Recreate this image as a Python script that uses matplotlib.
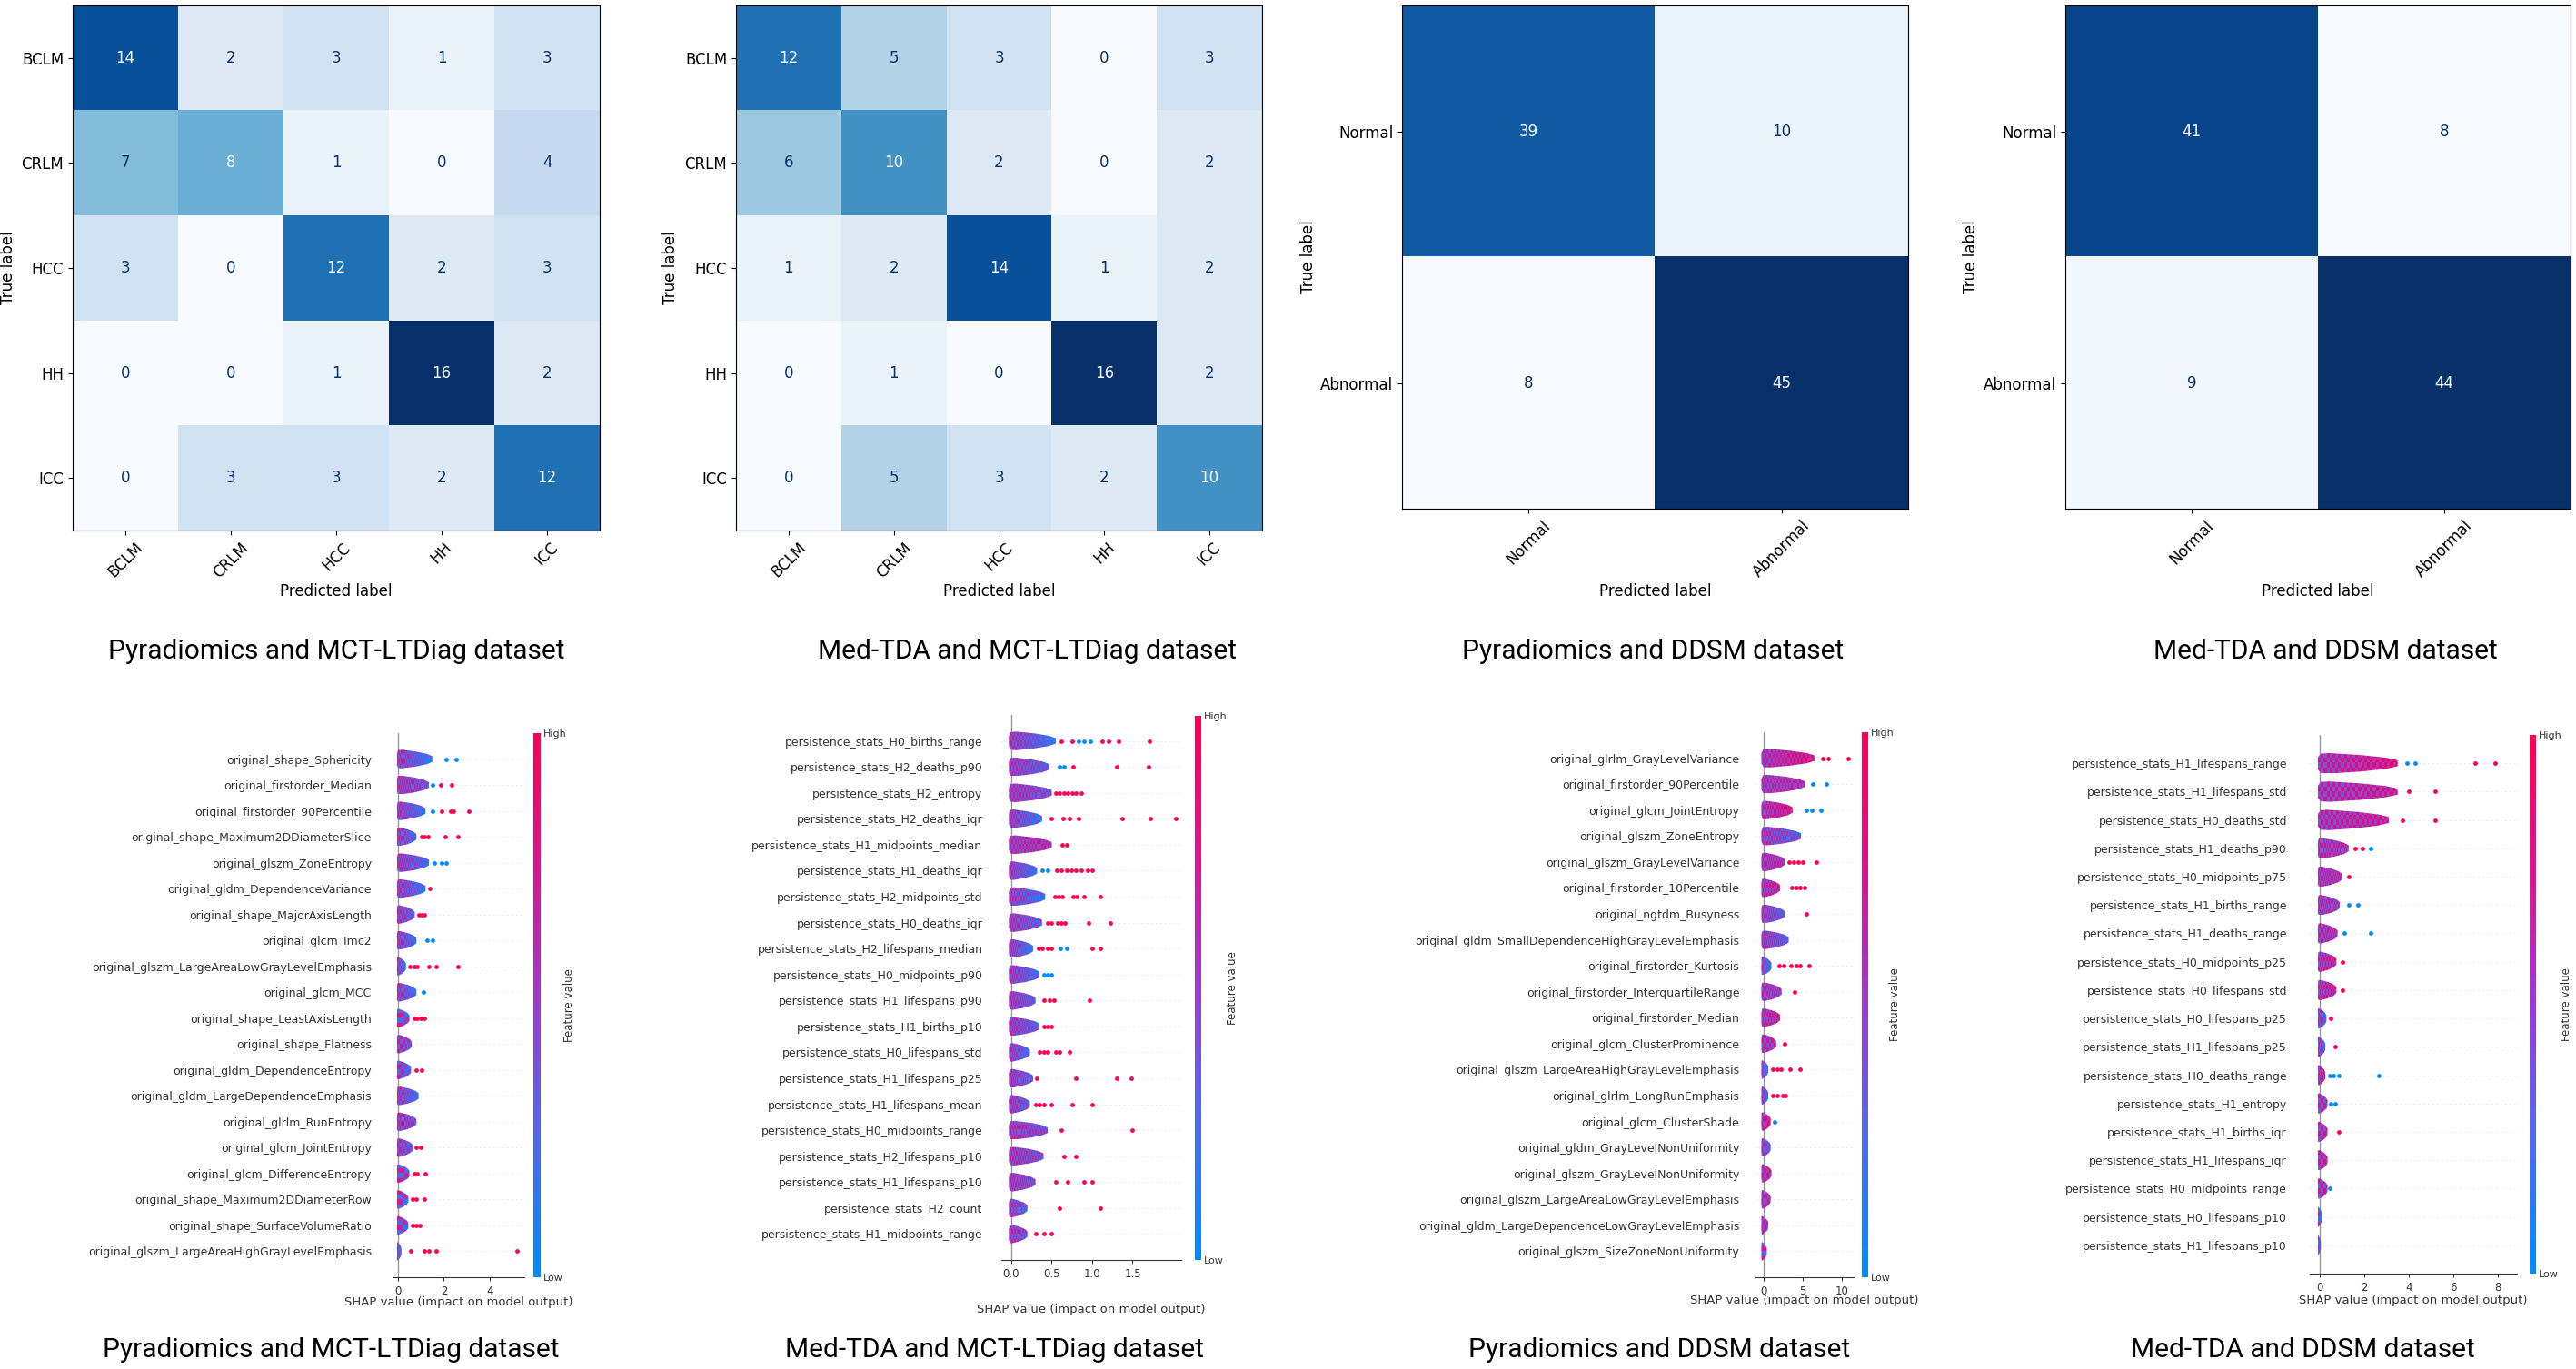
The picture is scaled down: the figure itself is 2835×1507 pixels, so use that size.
import numpy as np
import matplotlib
matplotlib.use("Agg")
import matplotlib.pyplot as plt
from matplotlib.colors import LinearSegmentedColormap
from matplotlib.patches import Polygon
from matplotlib.cm import ScalarMappable

# ---------------- data ----------------
liver_classes = ["BCLM", "CRLM", "HCC", "HH", "ICC"]
ddsm_classes = ["Normal", "Abnormal"]

cm_pyr_liver = [[14, 2, 3, 1, 3], [7, 8, 1, 0, 4], [3, 0, 12, 2, 3], [0, 0, 1, 16, 2], [0, 3, 3, 2, 12]]
cm_tda_liver = [[12, 5, 3, 0, 3], [6, 10, 2, 0, 2], [1, 2, 14, 1, 2], [0, 1, 0, 16, 2], [0, 5, 3, 2, 10]]
cm_pyr_ddsm = [[39, 10], [8, 45]]
cm_tda_ddsm = [[41, 8], [9, 44]]

titles = ["Pyradiomics and MCT-LTDiag dataset", "Med-TDA and MCT-LTDiag dataset",
          "Pyradiomics and DDSM dataset", "Med-TDA and DDSM dataset"]

# SHAP summaries: feature names (top to bottom), right end of the dense cluster,
# colour of the cluster's right end (0 low .. 1 high), isolated high / low dots
a_features = ["original_shape_Sphericity", "original_firstorder_Median", "original_firstorder_90Percentile",
              "original_shape_Maximum2DDiameterSlice", "original_glszm_ZoneEntropy",
              "original_gldm_DependenceVariance", "original_shape_MajorAxisLength", "original_glcm_Imc2",
              "original_glszm_LargeAreaLowGrayLevelEmphasis", "original_glcm_MCC",
              "original_shape_LeastAxisLength", "original_shape_Flatness", "original_gldm_DependenceEntropy",
              "original_gldm_LargeDependenceEmphasis", "original_glrlm_RunEntropy", "original_glcm_JointEntropy",
              "original_glcm_DifferenceEntropy", "original_shape_Maximum2DDiameterRow",
              "original_shape_SurfaceVolumeRatio", "original_glszm_LargeAreaHighGrayLevelEmphasis"]
a_blob = [1.5, 1.35, 1.2, 0.8, 1.35, 1.2, 0.73, 0.8, 0.35, 0.8, 0.5, 0.6, 0.57, 0.9, 0.8, 0.65, 0.5, 0.45, 0.45, 0.15]
a_tone = [0.1, 0.4, 0.15, 0.2, 0.2, 0.15, 0.3, 0.15, 0.05, 0.15, 0.3, 0.4, 0.2, 0.15, 0.4, 0.3, 0.4, 0.3, 0.3, 0.0]
a_red = [[], [1.85, 2.35], [1.9, 2.3, 2.4, 3.1], [1.05, 1.15, 1.3, 2.05, 2.6], [], [1.4], [0.9, 1.05, 1.15], [],
         [0.5, 0.7, 0.85, 1.35, 1.65, 2.6], [], [0.7, 0.85, 1.0, 1.15], [], [0.8, 1.05], [], [], [0.8, 1.0],
         [0.7, 0.85, 1.2], [0.65, 0.8, 1.15], [0.65, 0.8, 0.95], [0.55, 1.15, 1.35, 1.65, 5.2]]
a_blue = [[2.1, 2.55], [1.5], [1.5], [], [1.6, 1.9, 2.1], [], [], [1.25, 1.5], [], [1.1],
          [], [], [], [], [], [], [], [], [], []]
a_ticks = [0, 2, 4]

b_features = ["persistence_stats_H0_births_range", "persistence_stats_H2_deaths_p90", "persistence_stats_H2_entropy",
              "persistence_stats_H2_deaths_iqr", "persistence_stats_H1_midpoints_median",
              "persistence_stats_H1_deaths_iqr", "persistence_stats_H2_midpoints_std",
              "persistence_stats_H0_deaths_iqr", "persistence_stats_H2_lifespans_median",
              "persistence_stats_H0_midpoints_p90", "persistence_stats_H1_lifespans_p90",
              "persistence_stats_H1_births_p10", "persistence_stats_H0_lifespans_std",
              "persistence_stats_H1_lifespans_p25", "persistence_stats_H1_lifespans_mean",
              "persistence_stats_H0_midpoints_range", "persistence_stats_H2_lifespans_p10",
              "persistence_stats_H1_lifespans_p10", "persistence_stats_H2_count",
              "persistence_stats_H1_midpoints_range"]
b_blob = [0.55, 0.47, 0.5, 0.38, 0.5, 0.32, 0.42, 0.38, 0.27, 0.35, 0.3, 0.35, 0.23, 0.27, 0.23, 0.45, 0.4, 0.3, 0.2, 0.2]
b_tone = [0.15, 0.3, 0.4, 0.15, 0.6, 0.15, 0.15, 0.3, 0.15, 0.2, 0.3, 0.3, 0.2, 0.3, 0.3, 0.4, 0.4, 0.4, 0.3, 0.4]
b_red = [[0.62, 0.75, 1.12, 1.2, 1.33, 1.71], [0.76, 1.3, 1.7], [0.55, 0.6, 0.65, 0.7, 0.75, 0.8, 0.87],
         [0.5, 0.64, 0.72, 0.83, 1.37, 1.72, 2.03], [0.63, 0.68], [0.56, 0.62, 0.68, 0.74, 0.8, 0.87, 0.94, 1.0],
         [0.54, 0.58, 0.63, 0.76, 0.81, 0.9, 1.1], [0.45, 0.5, 0.57, 0.62, 0.66, 0.95, 1.22],
         [0.34, 0.38, 0.45, 0.5, 1.0, 1.1], [], [0.4, 0.47, 0.53, 0.97], [0.4, 0.45, 0.5],
         [0.35, 0.4, 0.45, 0.55, 0.6, 0.72], [0.32, 0.8, 1.3, 1.48], [0.3, 0.35, 0.4, 0.5, 0.75, 1.0],
         [0.62, 1.5], [0.65, 0.8], [0.55, 0.7, 0.9, 1.0], [0.6, 1.1], [0.3, 0.4, 0.5]]
b_blue = [[0.83, 0.9, 0.98], [0.6, 0.65], [], [], [], [0.38, 0.45], [], [], [0.61, 0.69], [0.4, 0.45, 0.5],
          [], [], [], [], [], [], [], [], [], []]
b_ticks = [0.0, 0.5, 1.0, 1.5]

c_features = ["original_glrlm_GrayLevelVariance", "original_firstorder_90Percentile", "original_glcm_JointEntropy",
              "original_glszm_ZoneEntropy", "original_glszm_GrayLevelVariance", "original_firstorder_10Percentile",
              "original_ngtdm_Busyness", "original_gldm_SmallDependenceHighGrayLevelEmphasis",
              "original_firstorder_Kurtosis", "original_firstorder_InterquartileRange",
              "original_firstorder_Median", "original_glcm_ClusterProminence",
              "original_glszm_LargeAreaHighGrayLevelEmphasis", "original_glrlm_LongRunEmphasis",
              "original_glcm_ClusterShade", "original_gldm_GrayLevelNonUniformity",
              "original_glszm_GrayLevelNonUniformity", "original_glszm_LargeAreaLowGrayLevelEmphasis",
              "original_gldm_LargeDependenceLowGrayLevelEmphasis", "original_glszm_SizeZoneNonUniformity"]
c_blob = [6.5, 5.3, 3.7, 4.8, 2.7, 2.1, 2.7, 3.2, 1.0, 2.3, 2.1, 1.6, 0.6, 0.6, 0.9, 0.9, 1.0, 0.9, 0.6, 0.4]
c_tone = [0.8, 0.6, 0.8, 0.3, 0.6, 0.7, 0.3, 0.3, 0.1, 0.5, 0.7, 0.6, 0.1, 0.2, 0.8, 0.3, 0.7, 0.6, 0.6, 0.5]
c_red = [[7.5, 8.3, 10.8], [], [], [], [3.2, 3.8, 4.4, 5.0, 6.8], [3.6, 4.2, 4.7, 5.2], [5.5], [],
         [2.0, 2.6, 3.5, 4.2, 4.6, 5.8], [4.0], [], [2.7], [1.2, 1.7, 2.2, 3.4, 4.7], [1.2, 1.8, 2.4, 2.8],
         [], [], [], [], [], []]
c_blue = [[], [6.3, 8.0], [5.5, 6.2, 7.3], [], [], [], [], [], [], [], [], [], [], [], [1.4], [], [], [], [], []]
c_ticks = [0, 5, 10]

d_features = ["persistence_stats_H1_lifespans_range", "persistence_stats_H1_lifespans_std",
              "persistence_stats_H0_deaths_std", "persistence_stats_H1_deaths_p90",
              "persistence_stats_H0_midpoints_p75", "persistence_stats_H1_births_range",
              "persistence_stats_H1_deaths_range", "persistence_stats_H0_midpoints_p25",
              "persistence_stats_H0_lifespans_std", "persistence_stats_H0_lifespans_p25",
              "persistence_stats_H1_lifespans_p25", "persistence_stats_H0_deaths_range",
              "persistence_stats_H1_entropy", "persistence_stats_H1_births_iqr",
              "persistence_stats_H1_lifespans_iqr", "persistence_stats_H0_midpoints_range",
              "persistence_stats_H0_lifespans_p10", "persistence_stats_H1_lifespans_p10"]
d_blob = [3.5, 3.5, 3.1, 1.3, 1.0, 0.9, 0.8, 0.75, 0.75, 0.3, 0.25, 0.25, 0.35, 0.35, 0.35, 0.35, 0.1, 0.05]
d_tone = [0.8, 0.7, 0.7, 0.6, 0.6, 0.5, 0.6, 0.7, 0.7, 0.2, 0.2, 0.7, 0.5, 0.6, 0.7, 0.6, 0.0, 0.0]
d_red = [[7.0, 7.9], [4.0, 5.2], [3.7, 5.2], [1.6, 1.9], [1.3], [], [], [1.0], [1.0], [0.5], [0.7], [], [],
         [0.85], [], [], [], []]
d_blue = [[3.9, 4.3], [], [], [2.3], [], [1.3, 1.7], [1.1, 2.3], [], [], [], [], [0.45, 0.6, 0.85, 2.65],
          [0.5, 0.7], [], [], [0.45], [], []]
d_ticks = [0, 2, 4, 6, 8]

# ---------------- figure ----------------
W, H = 2835, 1507
fig = plt.figure(figsize=(W / 100, H / 100), dpi=100)

RED = "#ff0051"
BLUE = "#008bfb"
shap_cmap = LinearSegmentedColormap.from_list(
    "shap_rb", [(0, BLUE), (0.3, "#5d62e8"), (0.5, "#9b3bd0"), (0.75, "#d8158f"), (1, RED)])


def px_axes(x0, y0, x1, y1):
    return fig.add_axes([x0 / W, 1 - y1 / H, (x1 - x0) / W, (y1 - y0) / H])


def draw_cm(rect, cm, classes, ylab_x, xlab_y=651):
    ax = px_axes(*rect)
    cm = np.array(cm)
    n = len(classes)
    cmap = plt.get_cmap("Blues")
    ax.imshow(cm, cmap=cmap, aspect="auto", interpolation="nearest")
    thresh = (cm.max() + cm.min()) / 2.0
    for i in range(n):
        for j in range(n):
            color = cmap(1.0) if cm[i, j] < thresh else cmap(0.0)
            ax.text(j, i, str(cm[i, j]), ha="center", va="center", color=color, fontsize=12)
    ax.set_xticks(range(n))
    ax.set_xticklabels(classes, rotation=45, fontsize=12)
    ax.set_yticks(range(n))
    ax.set_yticklabels(classes, fontsize=12)
    ax.set_xlabel("Predicted label", fontsize=12)
    ax.set_ylabel("True label", fontsize=12)
    ax.xaxis.label.set_va("center")
    ax.yaxis.label.set_va("center")
    ax.xaxis.set_label_coords(0.5, (rect[3] - xlab_y) / (rect[3] - rect[1]))
    ax.yaxis.set_label_coords((ylab_x - rect[0]) / (rect[2] - rect[0]), 0.5)
    return ax


def draw_shap(rect, xlim, names, blob, tone, reds, blues, ticks, cbar, fv_x, pad, xlab_y, lo):
    ax = px_axes(*rect)
    n = len(names)
    ys = np.arange(n)[::-1]
    half = 0.36
    # speckle texture for the dense part of each beeswarm row
    cols, rows = 28, 4
    checker = ((np.arange(rows)[:, None] + np.arange(cols)[None, :]) % 2) * 2 - 1
    for k, y in enumerate(ys):
        ax.axhline(y, color="#cccccc", lw=0.6, dashes=(1, 5), zorder=-1)
        hi = blob[k]
        span = hi - lo
        xs = lo + span * np.array([0, 0.04, 0.15, 0.55, 0.85, 1.0])
        hs = half * np.array([0.55, 0.95, 1.0, 0.8, 0.55, 0.3])
        verts = list(zip(xs, y + hs)) + list(zip(xs[::-1], y - hs[::-1]))
        poly = Polygon(verts, closed=True, facecolor="none", edgecolor="none")
        ax.add_patch(poly)
        base = np.linspace(0.55, tone[k], cols)[None, :]
        vals = np.clip(base + 0.22 * checker, 0, 1)
        shade = shap_cmap(vals)[:, :, :3]
        im = ax.imshow(shade, extent=(lo, hi, y - half, y + half), aspect="auto",
                       interpolation="nearest", zorder=2)
        im.set_clip_path(poly)
        if reds[k]:
            ax.scatter(reds[k], [y] * len(reds[k]), s=12, color=RED, lw=0, zorder=3)
        if blues[k]:
            ax.scatter(blues[k], [y] * len(blues[k]), s=12, color=BLUE, lw=0, zorder=3)
    ax.axvline(0, color="#999999", lw=1.0, zorder=1)
    ax.set_xlim(*xlim)
    ax.set_ylim(-1, n)
    for side in ["top", "right", "left"]:
        ax.spines[side].set_visible(False)
    ax.spines["bottom"].set_color("#333333")
    ax.set_yticks(ys)
    ax.set_yticklabels(names)
    ax.tick_params("y", length=0, pad=pad, labelsize=9, labelcolor="#333333")
    ax.set_xticks(ticks)
    ax.tick_params("x", labelsize=8.5, color="#333333", labelcolor="#333333", length=3)
    ax.set_xlabel("SHAP value (impact on model output)", fontsize=9.5, color="#333333")
    ax.xaxis.label.set_va("center")
    ax.xaxis.set_label_coords(0.5, (rect[3] - xlab_y) / (rect[3] - rect[1]))

    cax = px_axes(*cbar)
    cb = fig.colorbar(ScalarMappable(cmap=shap_cmap), cax=cax, ticks=[0, 1])
    cb.set_ticklabels(["Low", "High"])
    cb.outline.set_visible(False)
    cax.tick_params(length=0, labelsize=8, pad=2, labelcolor="#333333")
    cb.set_label("Feature value", size=8.5, color="#333333")
    cax.yaxis.label.set_va("center")
    cax.yaxis.set_label_coords((fv_x - cbar[0]) / (cbar[2] - cbar[0]), 0.5)
    return ax


draw_cm((80, 6, 660, 584), cm_pyr_liver, liver_classes, 9)
draw_cm((810, 6, 1389, 584), cm_tda_liver, liver_classes, 738)
draw_cm((1543, 6, 2100, 560), cm_pyr_ddsm, ddsm_classes, 1440)
draw_cm((2273, 6, 2829, 560), cm_tda_ddsm, ddsm_classes, 2169)

draw_shap((432.5, 807, 576.6, 1406), (-0.22, 5.5), a_features, a_blob, a_tone, a_red, a_blue, a_ticks,
          (587, 807, 595, 1406), 627, 17, 1433, -0.06)
draw_shap((1102.3, 787, 1299.9, 1387), (-0.12, 2.1), b_features, b_blob, b_tone, b_red, b_blue, b_ticks,
          (1315, 788, 1322, 1387), 1356, 15, 1441, -0.03)
draw_shap((1932.4, 806, 2039.9, 1406), (-1.0, 11.5), c_features, c_blob, c_tone, c_red, c_blue, c_ticks,
          (2049, 806, 2056, 1406), 2086, 13, 1432, -0.3)
draw_shap((2542, 809, 2770, 1402), (-0.45, 8.86), d_features, d_blob, d_tone, d_red, d_blue, d_ticks,
          (2784, 809, 2791, 1402), 2825, 18, 1431, -0.1)

top_x = [370, 1130, 1819, 2559]
bottom_x = [364, 1094, 1826, 2534]
for t, x in zip(titles, top_x):
    fig.text(x / W, 1 - 717 / H, t, ha="center", va="center", fontsize=21.5, family="Roboto")
for t, x in zip(titles, bottom_x):
    fig.text(x / W, 1 - 1486 / H, t, ha="center", va="center", fontsize=21.5, family="Roboto")

fig.savefig("out.png", dpi=100, facecolor="white")
